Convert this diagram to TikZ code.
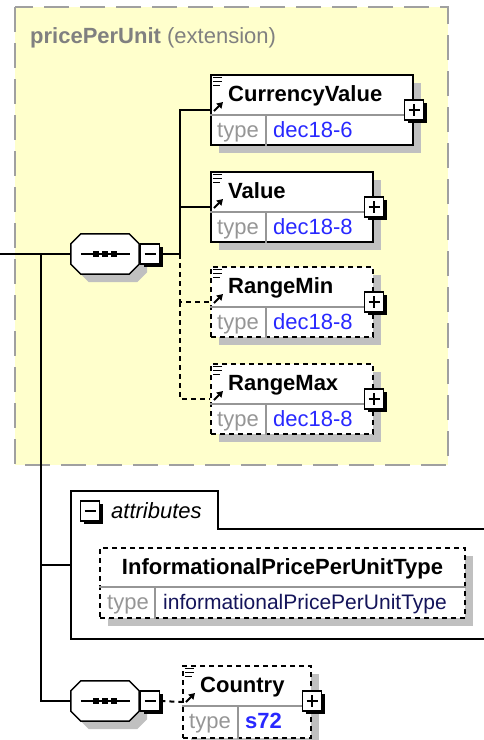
\documentclass[tikz,border=0pt]{standalone}
\usepackage{fontspec}
\setmainfont{Liberation Sans}
\usetikzlibrary{calc,shadows,arrows.meta}

\definecolor{groupfill}{RGB}{255,255,204}
\definecolor{groupline}{RGB}{160,160,160}
\definecolor{shadowgray}{RGB}{192,192,192}
\definecolor{typegray}{RGB}{150,150,150}
\definecolor{typeblue}{RGB}{40,40,255}
\definecolor{attrnavy}{RGB}{20,20,90}
\definecolor{titlegray}{RGB}{128,128,128}

\tikzset{
  wire/.style={line width=2pt},
  optwire/.style={dash pattern=on 5pt off 4pt},
  boxshadow/.style={drop shadow={shadow xshift=8pt,shadow yshift=-8pt,fill=shadowgray,opacity=1}},
  elembox/.style={draw=black,fill=white,line width=2pt,inner sep=0pt,minimum height=70pt,boxshadow},
  optbox/.style={elembox,dash pattern=on 5pt off 4pt},
  divider/.style={draw=typegray,line width=1.5pt},
  elemname/.style={inner sep=0pt,text=black,font=\fontsize{22}{26}\selectfont\bfseries},
  typelabel/.style={inner sep=0pt,text=typegray},
  typevalue/.style={inner sep=0pt,text=typeblue},
  pmbox/.style={draw=black,fill=white,line width=1.5pt,minimum width=19pt,minimum height=20pt,inner sep=0pt,
    drop shadow={shadow xshift=3pt,shadow yshift=-3pt,fill=black,opacity=1}},
  pmminus/.style={pmbox,path picture={
    \draw[line width=1.5pt] ([xshift=4pt]path picture bounding box.west) -- ([xshift=-4pt]path picture bounding box.east);}},
  pmplus/.style={pmbox,path picture={
    \draw[line width=1.5pt] ([xshift=4pt]path picture bounding box.west) -- ([xshift=-4pt]path picture bounding box.east);
    \draw[line width=1.5pt] ([yshift=-4pt]path picture bounding box.north) -- ([yshift=4pt]path picture bounding box.south);}},
  seqframe/.style={minimum width=68pt,minimum height=40pt,inner sep=0pt},
}

% element box: node, style, left, top, width, name, type
\newcommand\xelem[7]{%
  \node[#2,minimum width=#5pt,anchor=north west] (#1) at (#3,#4) {};
  \draw[divider] ($(#1.north west)+(0,41)$) -- ($(#1.north east)+(0,41)$);
  \draw[divider] ($(#1.north west)+(56,41)$) -- ($(#1.south west)+(56,0)$);
  \draw[line width=1pt] ($(#1.north west)+(3,3)$) -- ++(9,0)
    ($(#1.north west)+(3,7)$) -- ++(9,0) ($(#1.north west)+(3,11)$) -- ++(7,0);
  \draw[line width=2pt,-{Triangle[length=6pt,width=7pt]}] ($(#1.north west)+(4,37)$) -- ++(9,-9);
  \node[elemname,anchor=base west] at ($(#1.north west)+(18,27)$) {#6};
  \node[typelabel,anchor=base west] at ($(#1.north west)+(7,63)$) {type};
  \node[typevalue,anchor=base west] at ($(#1.north west)+(63,63)$) {#7};
  \node[pmplus] at ($(#1.north east)+(0,36)$) {};
}

% sequence compositor: node, centre y
\newcommand\seqgroup[2]{%
  \node[seqframe] (#1) at (105,#2) {};
  \filldraw[draw=black,fill=white,line width=1.5pt,boxshadow]
    ($(#1.north west)+(10,0)$) -- ($(#1.north east)+(-10,0)$) -- ($(#1.north east)+(0,10)$)
    -- ($(#1.south east)+(0,-10)$) -- ($(#1.south east)+(-10,0)$) -- ($(#1.south west)+(10,0)$)
    -- ($(#1.south west)+(0,-10)$) -- ($(#1.north west)+(0,10)$) -- cycle;
  \draw[line width=1.5pt] ($(#1.west)+(10,0)$) -- ($(#1.east)+(-9,0)$);
  \foreach \dx in {-9,0,9}
    \fill ($(#1.center)+(\dx,0)$) +(-3,-3) rectangle +(3,3);
  \node[pmminus] (#1m) at ($(#1.east)+(11,0)$) {};
}

\begin{document}
\begin{tikzpicture}[x=1pt,y=-1pt,font=\fontsize{22}{26}\selectfont]
  \useasboundingbox (0,0) rectangle (483,740);

  % extension group
  \filldraw[fill=groupfill,draw=groupline,line width=2pt,dash pattern=on 25pt off 11pt]
    (15,7) rectangle (448,465);
  \node[anchor=base west,inner sep=0pt,text=titlegray] (title) at (30,43)
    {\bfseries pricePerUnit\mdseries{} (extension)};

  \seqgroup{seqa}{254}
  \xelem{cur}{elembox}{210}{74}{202}{CurrencyValue}{dec18-6}
  \xelem{val}{elembox}{210}{171}{162}{Value}{dec18-8}
  \xelem{rmin}{optbox}{210}{266}{162}{RangeMin}{dec18-8}
  \xelem{rmax}{optbox}{210}{363}{162}{RangeMax}{dec18-8}

  % attributes
  \coordinate (attrw) at (71,565);
  \draw[wire] (490,529) -| (218,491) -| (attrw) |- (490,639);
  \node[pmminus] (attrm) at (90,511) {};
  \node[anchor=base west,inner sep=0pt,font=\fontsize{22}{26}\selectfont\itshape] (attrl) at (111,518) {attributes};
  \node[optbox,minimum width=365pt,anchor=north west] (ippu) at (99,547) {};
  \draw[divider] ($(ippu.north west)+(0,40)$) -- ($(ippu.north east)+(0,40)$);
  \draw[divider] ($(ippu.north west)+(56,40)$) -- ($(ippu.south west)+(56,0)$);
  \node[elemname,anchor=base] at ($(ippu.north)+(0,27)$) {InformationalPricePerUnitType};
  \node[typelabel,anchor=base west] at ($(ippu.north west)+(8,62)$) {type};
  \node[typevalue,text=attrnavy,anchor=base west,font=\fontsize{21}{25}\selectfont] at ($(ippu.north west)+(64,62)$) {informationalPricePerUnitType};

  \seqgroup{seqb}{701}
  \xelem{ctry}{optbox,minimum height=72pt}{182}{665}{128}{Country}{\bfseries s72}

  % connectors
  \coordinate (in) at (0,254);
  \coordinate (trunk) at (41,254);
  \coordinate (fork) at (180,254);
  \draw[wire] (in) -- (seqa.west);
  \draw[wire] (trunk) |- (seqb.west);
  \draw[wire] (trunk |- attrw) -- (attrw);
  \draw[wire] (seqam.east) -- (fork) |- (cur.west);
  \draw[wire] (fork) |- (val.west);
  \draw[wire,optwire] (fork) |- (rmin.west);
  \draw[wire,optwire] (fork |- rmin.west) |- (rmax.west);
  \draw[wire,optwire] (seqbm.east) -- (ctry.west);
\end{tikzpicture}
\end{document}
